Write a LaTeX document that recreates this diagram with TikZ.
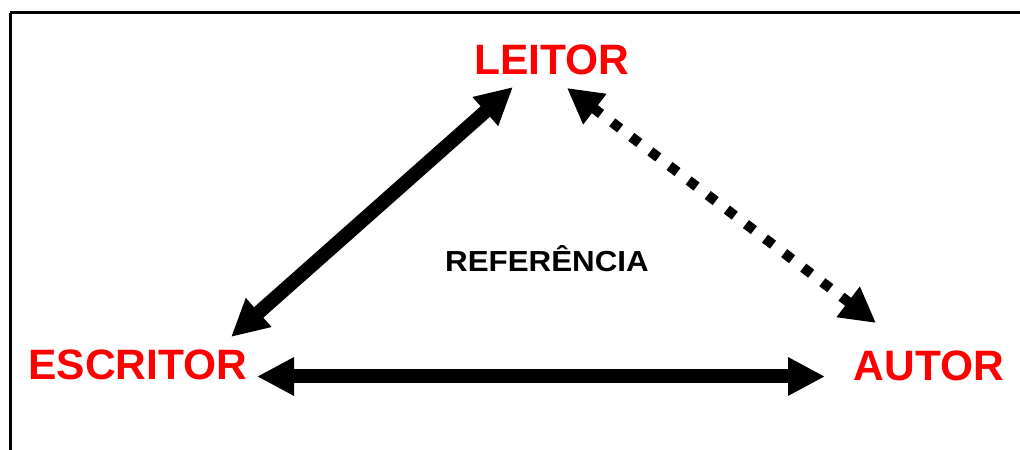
\documentclass[tikz,border=0pt]{standalone}
\usepackage{fontspec}
\setmainfont{Liberation Sans}
\usetikzlibrary{arrows.meta}
\definecolor{lblred}{RGB}{255,0,0}
\tikzset{
  lbl/.style={text=lblred, font=\bfseries\fontsize{42.5bp}{42.5bp}\selectfont, inner sep=0pt, anchor=base},
  ref/.style={text=black, font=\bfseries\fontsize{29bp}{29bp}\selectfont, inner sep=0pt, anchor=base, xscale=1.08},
  bigarrow/.style={line width=14bp, {Triangle[length=37bp,width=36bp]}-{Triangle[length=37bp,width=36bp]}},
  dotarrow/.style={line width=10bp, dash pattern=on 10bp off 14bp, {Triangle[length=35bp,width=36bp]}-{Triangle[length=35bp,width=36bp]}},
  frame/.style={line width=3bp}
}
\begin{document}
\begin{tikzpicture}[x=1bp,y=-1bp]
\useasboundingbox (0,0) rectangle (1020,450);
\draw[frame] (10,13) -- (1040,13);
\draw[frame] (10,13) -- (10,460);
\node[lbl] (leitor) at (552,75) {LEITOR};
\node[lbl] (escritor) at (138,380) {ESCRITOR};
\node[lbl] (autor) at (929,381) {AUTOR};
\node[ref] (referencia) at (547,272) {REFERÊNCIA};
\draw[bigarrow] ([shift={(93,-43)}]escritor.base) -- ([shift={(-39,12)}]leitor.base);
\draw[bigarrow] ([shift={(119,-3.5)}]escritor.base) -- ([shift={(-104,-4.5)}]autor.base);
\draw[dotarrow] ([shift={(15,13)}]leitor.base) -- ([shift={(-53,-58)}]autor.base);
\end{tikzpicture}
\end{document}
